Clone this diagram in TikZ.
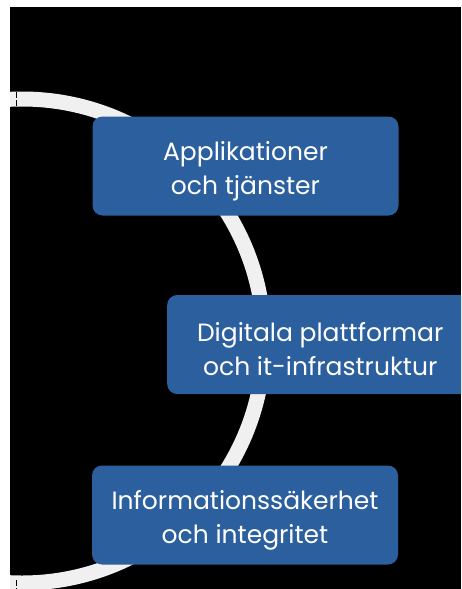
\documentclass[tikz,border=0pt]{standalone}
\usepackage{fontspec}
\setmainfont{Poppins}
\definecolor{boxblue}{RGB}{44,95,158}
\definecolor{ringgray}{RGB}{240,240,240}
\newcommand{\topgap}{\rule{0pt}{29pt}}
\tikzset{area/.style={fill=boxblue,rounded corners=10pt,text=white,align=center,minimum width=306pt,minimum height=99pt,font=\fontsize{25}{34}\selectfont}}
\begin{document}
\begin{tikzpicture}[x=1pt,y=-1pt]
	\useasboundingbox (0,0) rectangle (461,589);
	\fill[white] (0,0) rectangle (461,589);
	\fill[black] (10,7) rectangle (461,589);
	\begin{scope}
		\clip (10,7) rectangle (461,589);
		\draw[ringgray,line width=15pt] (22,341) circle[radius=242];
		\draw[black,line width=1pt,dash pattern=on 6pt off 2pt] (16.5,92)--(16.5,108) (16.5,580)--(16.5,589);
		\node[area] (apps) at (245.5,166) {\topgap Applikationer\\och tjänster};
		\node[area,anchor=west] (platforms) at (167,344.5) {\topgap Digitala plattformar\\och it-infrastruktur};
		\node[area] (security) at (245,515) {\topgap Informationssäkerhet\\och integritet};
	\end{scope}
\end{tikzpicture}
\end{document}
